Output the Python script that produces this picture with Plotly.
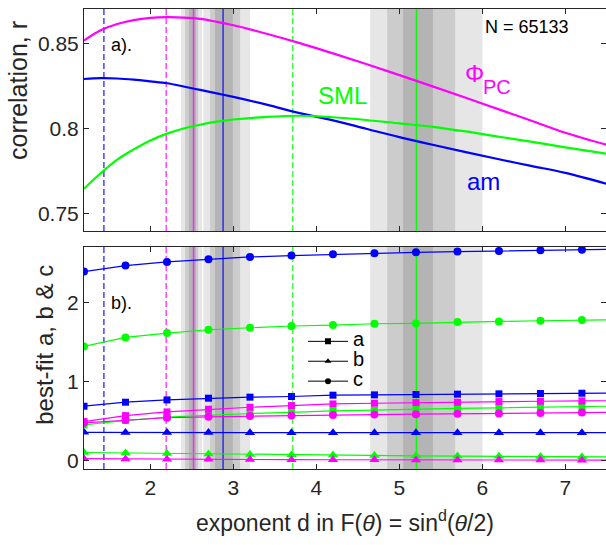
import plotly.graph_objects as go

# ---- panel a): correlation r versus exponent d ----
d_fine = [1.2, 1.4, 1.6, 1.8, 2.0, 2.2, 2.4, 2.6, 2.8, 3.0, 3.4, 3.8, 4.2,
          4.6, 5.0, 5.4, 5.8, 6.2, 6.6, 7.0, 7.5]
r_pc = [0.8515, 0.8575, 0.8612, 0.8635, 0.8648, 0.8652, 0.8650, 0.8642,
        0.8625, 0.8605, 0.8555, 0.8500, 0.8440, 0.8378, 0.8313, 0.8247,
        0.8180, 0.8112, 0.8044, 0.7975, 0.7904]
r_am = [0.8290, 0.8295, 0.8293, 0.8286, 0.8276, 0.8265, 0.8246, 0.8226,
        0.8206, 0.8185, 0.8140, 0.8090, 0.8048, 0.7999, 0.7950, 0.7905,
        0.7862, 0.7820, 0.7780, 0.7740, 0.7676]
r_sml = [0.7647, 0.7738, 0.7818, 0.7878, 0.7930, 0.7970, 0.8000, 0.8022,
         0.8040, 0.8053, 0.8068, 0.8075, 0.8066, 0.8050, 0.8030, 0.8010,
         0.7983, 0.7952, 0.7922, 0.7890, 0.7853]

# ---- panel b): best-fit a, b, c versus exponent d ----
d_fit = [1.2, 1.7, 2.2, 2.7, 3.2, 3.7, 4.2, 4.7, 5.2, 5.7, 6.2, 6.7, 7.2, 7.7]
am_a = [0.691, 0.742, 0.771, 0.793, 0.806, 0.814, 0.831, 0.835, 0.840, 0.844, 0.848, 0.852, 0.856, 0.859]
am_b = [0.360, 0.358, 0.357, 0.357, 0.356, 0.356, 0.356, 0.355, 0.355, 0.355, 0.355, 0.355, 0.355, 0.355]
am_c = [2.398, 2.474, 2.521, 2.554, 2.584, 2.601, 2.618, 2.630, 2.643, 2.652, 2.660, 2.668, 2.676, 2.682]
sml_a = [0.454, 0.510, 0.553, 0.578, 0.599, 0.612, 0.633, 0.642, 0.655, 0.663, 0.671, 0.680, 0.688, 0.694]
sml_b = [0.104, 0.098, 0.091, 0.084, 0.079, 0.075, 0.071, 0.066, 0.062, 0.059, 0.056, 0.053, 0.050, 0.048]
sml_c = [1.449, 1.563, 1.619, 1.661, 1.686, 1.708, 1.720, 1.737, 1.741, 1.758, 1.766, 1.775, 1.783, 1.790]
pc_a = [0.496, 0.572, 0.619, 0.653, 0.678, 0.699, 0.720, 0.729, 0.737, 0.742, 0.750, 0.754, 0.758, 0.762]
pc_b = [0.026, 0.022, 0.019, 0.017, 0.015, 0.013, 0.012, 0.011, 0.010, 0.009, 0.008, 0.008, 0.007, 0.007]
pc_c = [0.480, 0.515, 0.545, 0.557, 0.566, 0.572, 0.581, 0.585, 0.590, 0.594, 0.600, 0.604, 0.610, 0.614]

# optimum exponents (solid) and peak-correlation exponents (dashed)
d_opt = {"pc": 2.52, "am": 2.876, "sml": 5.207}
d_peak = {"am": 1.44, "pc": 2.19, "sml": 3.716}
# uncertainty bands around each optimum: (outer, middle, inner) limits
bands = {
    "pc": [(2.370, 2.623), (2.418, 2.575), (2.466, 2.550)],
    "am": [(2.638, 3.201), (2.719, 3.081), (2.779, 2.993)],
    "sml": [(4.648, 6.002), (4.853, 5.673), (5.046, 5.404)],
}
band_greys = ["#e6e6e6", "#cccccc", "#b4b4b4"]

BLUE, MAG, GRN = "#0000ff", "#ff00ff", "#00ff00"
col = {"am": BLUE, "pc": MAG, "sml": GRN}
col_soft = {"am": "rgba(0,0,255,0.7)", "pc": "rgba(255,0,255,0.7)", "sml": "rgba(0,255,0,0.9)"}
AX = "#262626"
FONT = "Liberation Sans, Arial, Helvetica, sans-serif"

fig = go.Figure()

# correlation curves
for key, vals in (("pc", r_pc), ("am", r_am), ("sml", r_sml)):
    fig.add_trace(go.Scatter(x=d_fine, y=vals, mode="lines", line=dict(color=col[key], width=2.2, shape="spline"),
                             showlegend=False, xaxis="x", yaxis="y"))

# best-fit parameter curves
sym = {"a": "square", "b": "triangle-up", "c": "circle"}
msize = {"a": 7, "b": 9, "c": 8}
series = [
    ("am", "a", am_a), ("am", "b", am_b), ("am", "c", am_c),
    ("sml", "a", sml_a), ("sml", "b", sml_b), ("sml", "c", sml_c),
    ("pc", "a", pc_a), ("pc", "b", pc_b), ("pc", "c", pc_c),
]
for key, p, vals in series:
    fig.add_trace(go.Scatter(x=d_fit, y=vals, mode="lines+markers",
                             line=dict(color=col[key], width=1.2),
                             marker=dict(symbol=sym[p], size=msize[p], color=col[key]),
                             showlegend=False, xaxis="x2", yaxis="y2"))

# legend keys for the parameter symbols
for p in ("a", "b", "c"):
    fig.add_trace(go.Scatter(x=[None], y=[None], mode="lines+markers",
                             name='<span style="font-size:20px">%s</span>' % p,
                             line=dict(color="black", width=1),
                             marker=dict(symbol=sym[p], size=6, color="black"),
                             xaxis="x2", yaxis="y2"))

# shaded bands and vertical reference lines in both panels
shapes = []
for yref in ("y domain", "y2 domain"):
    for key in ("pc", "am", "sml"):
        for (lo, hi), g in zip(bands[key], band_greys):
            shapes.append(dict(type="rect", xref="x", yref=yref, x0=lo, x1=hi, y0=0, y1=1,
                               fillcolor=g, line=dict(width=0), layer="below"))
    for key in ("am", "pc", "sml"):
        shapes.append(dict(type="line", xref="x", yref=yref, x0=d_peak[key], x1=d_peak[key], y0=0, y1=1,
                           line=dict(color=col[key], width=1.1, dash="6px,3px"), layer="below"))
        shapes.append(dict(type="line", xref="x", yref=yref, x0=d_opt[key], x1=d_opt[key], y0=0, y1=1,
                           line=dict(color=col_soft[key], width=1.6), layer="below"))

axis_common = dict(showline=True, linecolor=AX, linewidth=1, ticks="inside", ticklen=5, tickwidth=1,
                   tickcolor=AX, showgrid=False, zeroline=False,
                   tickfont=dict(family=FONT, size=21, color=AX))

fig.update_layout(
    width=606, height=545,
    margin=dict(l=84, r=0, t=9, b=76),
    paper_bgcolor="white", plot_bgcolor="white",
    font=dict(family=FONT, color=AX),
    shapes=shapes,
    xaxis=dict(**axis_common, domain=[0, 1], anchor="y", range=[1.2, 7.49], mirror="allticks",
               tickvals=[2, 3, 4, 5, 6, 7], showticklabels=False),
    yaxis=dict(**axis_common, domain=[0.5174, 1], anchor="x", range=[0.74, 0.87], mirror="ticks",
               tickvals=[0.75, 0.8, 0.85], ticktext=["0.75", "0.8", "0.85"]),
    xaxis2=dict(**axis_common, domain=[0, 1], anchor="y2", range=[1.2, 7.49], mirror="allticks",
                tickvals=[2, 3, 4, 5, 6, 7], matches="x"),
    yaxis2=dict(**axis_common, domain=[0, 0.4826], anchor="x2", range=[-0.105, 2.71], mirror="ticks",
                tickvals=[0, 1, 2]),
    legend=dict(x=0.4195, y=0.31, xanchor="left", yanchor="top", bgcolor="rgba(0,0,0,0)",
                font=dict(family=FONT, size=13, color="black"), tracegroupgap=0, itemwidth=40),
)

ann = []
def text(x, y, s, size, color="black", xanchor="center", xref="x", yref="y"):
    ann.append(dict(x=x, y=y, xref=xref, yref=yref, text=s, showarrow=False, xanchor=xanchor,
                    yanchor="middle", font=dict(family=FONT, size=size, color=color)))

text(1.50, 0.849, "a).", 18, xanchor="left")
text(6.01, 0.8596, "N = 65133", 18, xanchor="left")
text(4.311, 0.8196, "SML", 24, GRN)
text(5.902, 0.8325, "Φ", 24, MAG)
text(6.18, 0.8245, "PC", 20, MAG)
text(6.011, 0.769, "am", 24, BLUE)
text(1.50, 2.004, "b).", 18, xanchor="left", xref="x2", yref="y2")

def title(x, y, s, size, angle=0):
    ann.append(dict(x=x, y=y, xref="paper", yref="paper", text=s, textangle=angle, showarrow=False,
                    xanchor="center", yanchor="middle", font=dict(family=FONT, size=size, color=AX)))

title(-0.1264, 0.822, "correlation, r", 25, -90)
title(-0.0747, 0.27, "best-fit a, b &amp; c", 24, -90)
title(0.5, -0.113, "exponent d in F(<i>θ</i>) = sin<sup>d</sup>(<i>θ</i>/2)", 23)
fig.update_layout(annotations=ann)

fig.write_html("out.html")
